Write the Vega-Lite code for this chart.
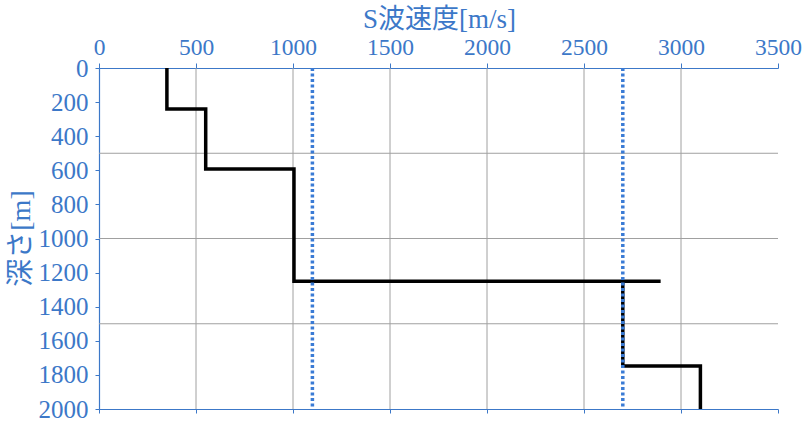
{
  "$schema": "https://vega.github.io/schema/vega-lite/v6.json",
  "width": 679,
  "height": 341,
  "autosize": "none",
  "padding": {"left": 99, "top": 68, "right": 32, "bottom": 17},
  "datasets": {
    "gridX": [{"v": 500}, {"v": 1000}, {"v": 1500}, {"v": 2000}, {"v": 2500}, {"v": 3000}],
    "gridY": [{"d": 500}, {"d": 1000}, {"d": 1500}],
    "profile": [
      {"seg": "a", "i": 1, "v": 350, "d": 0},
      {"seg": "a", "i": 2, "v": 350, "d": 240},
      {"seg": "a", "i": 3, "v": 550, "d": 240},
      {"seg": "a", "i": 4, "v": 550, "d": 592},
      {"seg": "a", "i": 5, "v": 1005, "d": 592},
      {"seg": "a", "i": 6, "v": 1005, "d": 1250},
      {"seg": "a", "i": 7, "v": 2895, "d": 1250},
      {"seg": "b", "i": 1, "v": 2700, "d": 1250},
      {"seg": "b", "i": 2, "v": 2700, "d": 1748},
      {"seg": "b", "i": 3, "v": 3100, "d": 1748},
      {"seg": "b", "i": 4, "v": 3100, "d": 2000}
    ],
    "ref": [{"v": 1100}, {"v": 2700}]
  },
  "resolve": {"axis": {"x": "independent", "y": "independent"}},
  "layer": [
    {
      "data": {"name": "gridX"},
      "mark": {"type": "rule", "color": "#a0a0a0", "strokeWidth": 1},
      "encoding": {
        "x": {
          "field": "v", "type": "quantitative",
          "scale": {"domain": [0, 3500], "nice": false},
          "axis": {
            "orient": "bottom", "values": [0, 500, 1000, 1500, 2000, 2500, 3000, 3500],
            "labels": false, "title": null, "grid": false,
            "domainColor": "#3c78c8", "domainWidth": 1.2,
            "tickColor": "#3c78c8", "tickSize": 4
          }
        }
      }
    },
    {
      "data": {"name": "gridY"},
      "mark": {"type": "rule", "color": "#a0a0a0", "strokeWidth": 1},
      "encoding": {
        "y": {
          "field": "d", "type": "quantitative",
          "scale": {"domain": [0, 2000], "nice": false, "reverse": true},
          "axis": null
        }
      }
    },
    {
      "data": {"name": "profile"},
      "mark": {"type": "line", "color": "black", "strokeWidth": 3.5, "strokeJoin": "miter"},
      "encoding": {
        "x": {
          "field": "v", "type": "quantitative",
          "scale": {"domain": [0, 3500], "nice": false},
          "axis": {
            "orient": "top", "values": [0, 500, 1000, 1500, 2000, 2500, 3000, 3500],
            "format": "d", "grid": false, "title": "S波速度[m/s]",
            "labelFont": "Liberation Serif", "labelFontSize": 23.5, "labelColor": "#3c78c8",
            "labelPadding": 4, "labelOverlap": false, "labelFlush": false,
            "domainColor": "#3c78c8", "domainWidth": 1.2,
            "tickColor": "#3c78c8", "tickSize": 5,
            "titleFont": "Liberation Serif, Noto Sans CJK JP", "titleFontSize": 27,
            "titleFontWeight": "normal", "titleColor": "#3c78c8",
            "titleX": 340, "titleY": -41, "titleBaseline": "alphabetic"
          }
        },
        "y": {
          "field": "d", "type": "quantitative",
          "scale": {"domain": [0, 2000], "nice": false, "reverse": true},
          "axis": {
            "orient": "left",
            "values": [0, 200, 400, 600, 800, 1000, 1200, 1400, 1600, 1800, 2000],
            "format": "d", "grid": false, "title": "深さ[m]",
            "labelFont": "Liberation Serif", "labelFontSize": 25, "labelColor": "#3c78c8",
            "labelPadding": 7, "labelOverlap": false, "labelFlush": false,
            "domainColor": "#3c78c8", "domainWidth": 1.2,
            "tickColor": "#3c78c8", "tickSize": 4,
            "titleFont": "Liberation Serif, Noto Sans CJK JP", "titleFontSize": 28,
            "titleFontWeight": "normal", "titleColor": "#3c78c8",
            "titleX": -78, "titleY": 170, "titleBaseline": "middle", "titleAngle": -90
          }
        },
        "detail": {"field": "seg"},
        "order": {"field": "i", "type": "quantitative"}
      }
    },
    {
      "data": {"name": "ref"},
      "mark": {"type": "rule", "color": "#3a7bd5", "strokeWidth": 3.5, "strokeDash": [3, 2.5]},
      "encoding": {
        "x": {"field": "v", "type": "quantitative", "scale": {"domain": [0, 3500], "nice": false}, "axis": null}
      }
    }
  ],
  "config": {"view": {"stroke": null}}
}
